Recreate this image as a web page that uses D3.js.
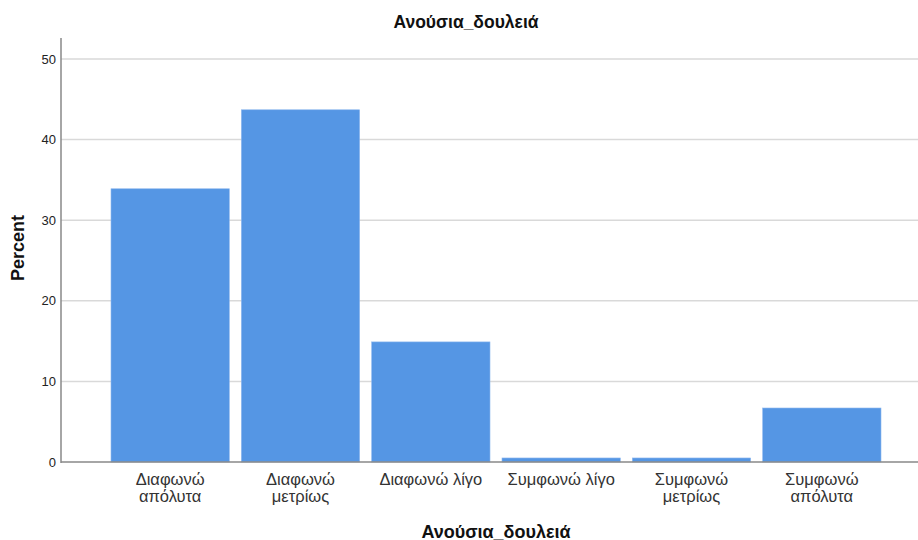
<!DOCTYPE html>
<html>
<head>
<meta charset="utf-8">
<script src="https://cdn.jsdelivr.net/npm/d3@7"></script>
<style>
  html, body { margin: 0; padding: 0; background: #fff; }
  svg { display: block; font-family: "Liberation Sans", Arial, sans-serif; }
</style>
</head>
<body>
<svg id="chart" width="918" height="540"></svg>
<script>
const categories = [
  ["Διαφωνώ", "απόλυτα"],
  ["Διαφωνώ", "μετρίως"],
  ["Διαφωνώ λίγο"],
  ["Συμφωνώ λίγο"],
  ["Συμφωνώ", "μετρίως"],
  ["Συμφωνώ", "απόλυτα"]
];
const percents = [33.9, 43.7, 14.9, 0.5, 0.5, 6.7];
const yTicks = [0, 10, 20, 30, 40, 50];
const title = "Ανούσια_δουλειά";
const xTitle = "Ανούσια_δουλειά";
const yTitle = "Percent";

const svg = d3.select("#chart");
const axisX = 61, baseY = 462, topY = 38, rightX = 918;

const y = d3.scaleLinear().domain([0, 50]).range([baseY, 59]);
const x = d3.scaleBand()
  .domain(d3.range(categories.length))
  .range([105, 887])
  .paddingInner(0.092)
  .paddingOuter(0.046);

// gridlines
svg.append("g")
  .selectAll("line")
  .data(yTicks.filter(d => d > 0))
  .join("line")
  .attr("x1", axisX).attr("x2", rightX)
  .attr("y1", d => y(d)).attr("y2", d => y(d))
  .attr("stroke", "#d9d9d9").attr("stroke-width", 1.5);

// bars
svg.append("g")
  .selectAll("rect")
  .data(percents)
  .join("rect")
  .attr("x", (d, i) => x(i))
  .attr("y", d => y(d))
  .attr("width", x.bandwidth())
  .attr("height", d => baseY - y(d))
  .attr("fill", "#5596e4")
  .attr("stroke", "#8fb8ee")
  .attr("stroke-width", 0.6);

// y axis
const yAxis = d3.axisLeft(y).tickValues(yTicks).tickSize(0).tickPadding(5);
const gy = svg.append("g").attr("transform", `translate(${axisX},0)`).call(yAxis);
gy.select(".domain").remove();
gy.selectAll("text").attr("font-size", 13).attr("fill", "#222")
  .attr("font-family", "Liberation Sans, Arial, sans-serif");
svg.append("line")
  .attr("x1", axisX).attr("x2", axisX).attr("y1", topY).attr("y2", baseY + 1)
  .attr("stroke", "#888").attr("stroke-width", 1.5);

// x axis baseline
svg.append("line")
  .attr("x1", axisX).attr("x2", rightX).attr("y1", baseY).attr("y2", baseY)
  .attr("stroke", "#888").attr("stroke-width", 1.5);

// x labels
const xl = svg.append("g").selectAll("text")
  .data(categories)
  .join("text")
  .attr("x", (d, i) => x(i) + x.bandwidth() / 2)
  .attr("y", 485)
  .attr("text-anchor", "middle")
  .attr("font-size", 16.5)
  .attr("fill", "#333");
xl.selectAll("tspan")
  .data(d => d)
  .join("tspan")
  .attr("x", function() { return d3.select(this.parentNode).attr("x"); })
  .attr("dy", (d, i) => i === 0 ? 0 : 17)
  .text(d => d);

// title
svg.append("text")
  .attr("x", 466).attr("y", 28)
  .attr("text-anchor", "middle")
  .attr("font-size", 17.5).attr("font-weight", "bold").attr("fill", "#111")
  .text(title);

// x title
svg.append("text")
  .attr("x", 496).attr("y", 538)
  .attr("text-anchor", "middle")
  .attr("font-size", 18).attr("font-weight", "bold").attr("fill", "#111")
  .text(xTitle);

// y title
svg.append("text")
  .attr("transform", "translate(24,248) rotate(-90)")
  .attr("text-anchor", "middle")
  .attr("font-size", 18).attr("font-weight", "bold").attr("fill", "#111")
  .text(yTitle);
</script>
</body>
</html>
